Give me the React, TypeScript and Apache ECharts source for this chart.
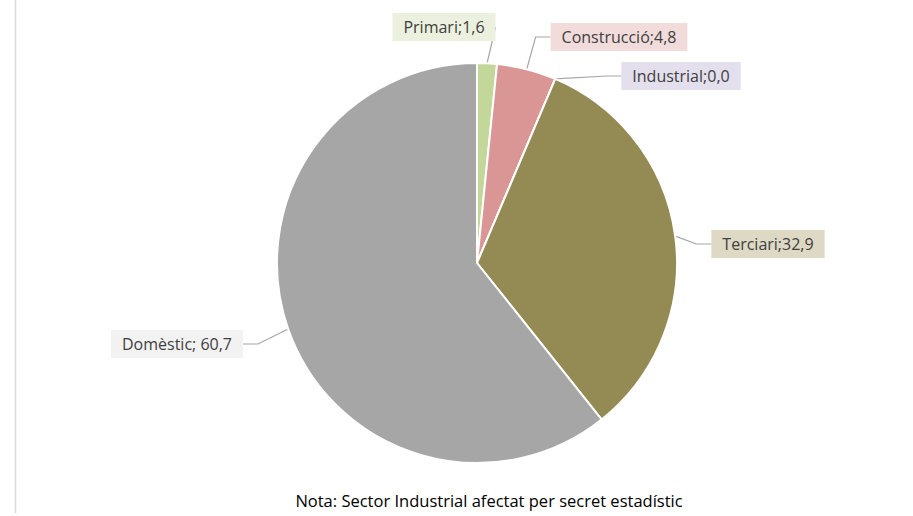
import React, { useEffect, useRef } from "react";
import * as echarts from "echarts";

const categories = ["Primari", "Construcció", "Industrial", "Terciari", "Domèstic"];
const values = [1.6, 4.8, 0.0, 32.9, 60.7];
const separators = [";", ";", ";", ";", "; "];
const sliceColors = ["#c4d79b", "#da9694", "#b1a0c7", "#948a54", "#a6a6a6"];
const labelBgColors = ["#ebf1de", "#f2dcdb", "#e4dfec", "#ddd9c4", "#f2f2f2"];
const labelPositions = [
  [444, 27],
  [619, 37],
  [681, 76],
  [768, 244],
  [177, 344],
];
const noteText = "Nota: Sector Industrial afectat per secret estadístic";

export default function App() {
  const ref = useRef<HTMLDivElement>(null);
  useEffect(() => {
    document.body.style.margin = "0";
    const chart = echarts.init(ref.current!, null, { renderer: "svg" });
    const data = categories.map((name, i) => ({
      name,
      value: values[i],
      itemStyle: { color: sliceColors[i] },
      label: {
        backgroundColor: labelBgColors[i],
        formatter: name + separators[i] + values[i].toFixed(1).replace(".", ","),
      },
    }));
    chart.setOption({
      animation: false,
      backgroundColor: "#ffffff",
      graphic: [
        {
          type: "line",
          shape: { x1: 15.5, y1: 0, x2: 15.5, y2: 513 },
          style: { stroke: "#d9d9d9", lineWidth: 1.5 },
        },
        {
          type: "text",
          x: 489,
          y: 500,
          style: {
            text: noteText,
            align: "center",
            verticalAlign: "middle",
            fill: "#000000",
            font: '16.5px "Open Sans", sans-serif',
          },
        },
      ],
      series: [
        {
          type: "pie",
          center: [477, 263],
          radius: 200,
          startAngle: 90,
          clockwise: true,
          stillShowZeroSum: true,
          avoidLabelOverlap: false,
          itemStyle: { borderColor: "#ffffff", borderWidth: 2 },
          label: {
            show: true,
            color: "#404040",
            fontSize: 16,
            fontFamily: '"Open Sans", sans-serif',
            padding: [6, 11],
          },
          labelLine: {
            show: true,
            length: 15,
            length2: 15,
            lineStyle: { color: "#a6a6a6", width: 1.2 },
          },
          labelLayout: (params: any) => {
            const p = labelPositions[params.dataIndex];
            return { x: p[0], y: p[1], align: "center", verticalAlign: "middle" };
          },
          emphasis: { disabled: true },
          data,
        },
      ],
    });
    return () => chart.dispose();
  }, []);
  return <div ref={ref} style={{ width: 913, height: 516 }} />;
}
